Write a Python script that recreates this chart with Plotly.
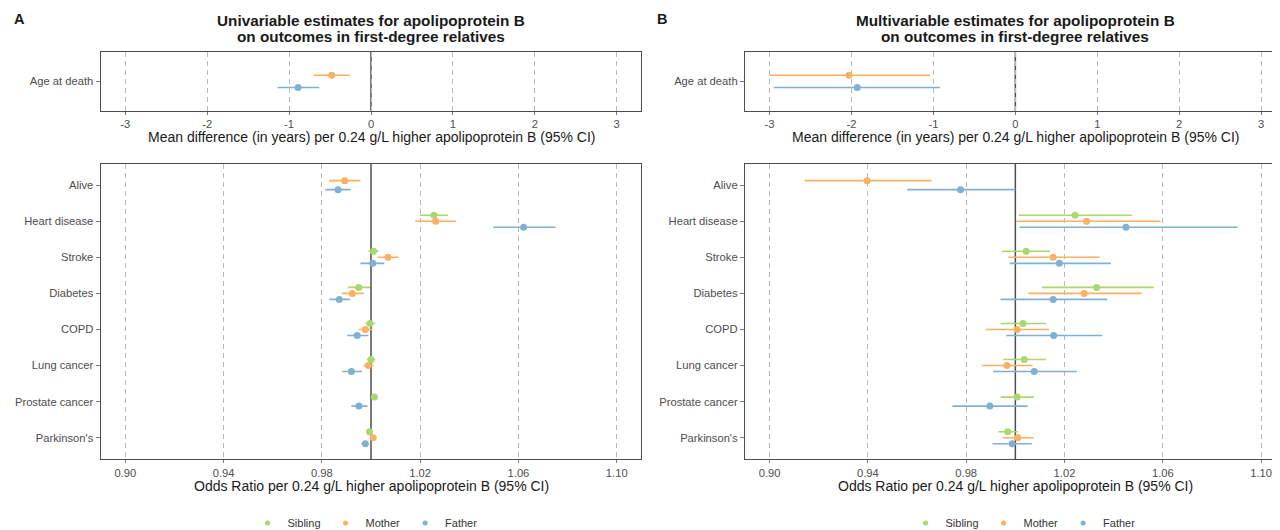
import plotly.graph_objects as go

# ---------------- data ----------------
categories = ["Alive", "Heart disease", "Stroke", "Diabetes", "COPD",
              "Lung cancer", "Prostate cancer", "Parkinson's"]
relatives = ["Sibling", "Mother", "Father"]
age_category = ["Age at death"]

# Panel A (univariable), odds ratios
uni_sibling_or = [None, 1.0256, 1.0010, 0.9950, 0.9996, 1.0000, 1.0014, 0.9994]
uni_sibling_lo = [None, 1.0200, 0.9989, 0.9907, 0.9977, 0.9983, 1.0003, 0.9983]
uni_sibling_hi = [None, 1.0314, 1.0031, 0.9996, 1.0017, 1.0017, 1.0026, 1.0006]
uni_mother_or = [0.9893, 1.0263, 1.0069, 0.9924, 0.9977, 0.9989, None, 1.0009]
uni_mother_lo = [0.9829, 1.0180, 1.0027, 0.9881, 0.9949, 0.9969, None, 0.9997]
uni_mother_hi = [0.9957, 1.0346, 1.0111, 0.9970, 1.0006, 1.0011, None, 1.0021]
uni_father_or = [0.9866, 1.0621, 1.0007, 0.9871, 0.9944, 0.9920, 0.9951, 0.9977]
uni_father_lo = [0.9814, 1.0497, 0.9957, 0.9831, 0.9903, 0.9883, 0.9920, 0.9960]
uni_father_hi = [0.9917, 1.0751, 1.0054, 0.9914, 0.9989, 0.9963, 0.9986, 0.9991]

# Panel B (multivariable), odds ratios
multi_sibling_or = [None, 1.0243, 1.0044, 1.0331, 1.0031, 1.0036, 1.0007, 0.9969]
multi_sibling_lo = [None, 1.0014, 0.9946, 1.0109, 0.9940, 0.9951, 0.9940, 0.9931]
multi_sibling_hi = [None, 1.0474, 1.0141, 1.0563, 1.0124, 1.0124, 1.0076, 1.0010]
multi_mother_or = [0.9397, 1.0290, 1.0154, 1.0280, 1.0007, 0.9966, None, 1.0010]
multi_mother_lo = [0.9143, 1.0003, 0.9971, 1.0053, 0.9879, 0.9863, None, 0.9949]
multi_mother_hi = [0.9659, 1.0591, 1.0343, 1.0514, 1.0137, 1.0070, None, 1.0074]
multi_father_or = [0.9777, 1.0450, 1.0179, 1.0154, 1.0156, 1.0077, 0.9896, 0.9987]
multi_father_lo = [0.9560, 1.0017, 0.9977, 0.9940, 0.9963, 0.9909, 0.9744, 0.9907]
multi_father_hi = [1.0000, 1.0904, 1.0389, 1.0374, 1.0354, 1.0250, 1.0050, 1.0067]

# Age at death, mean difference in years
uni_age_sibling = [None]; uni_age_sibling_lo = [None]; uni_age_sibling_hi = [None]
uni_age_mother = [-0.48]; uni_age_mother_lo = [-0.70]; uni_age_mother_hi = [-0.26]
uni_age_father = [-0.89]; uni_age_father_lo = [-1.14]; uni_age_father_hi = [-0.63]
multi_age_sibling = [None]; multi_age_sibling_lo = [None]; multi_age_sibling_hi = [None]
multi_age_mother = [-2.03]; multi_age_mother_lo = [-3.00]; multi_age_mother_hi = [-1.04]
multi_age_father = [-1.93]; multi_age_father_lo = [-2.95]; multi_age_father_hi = [-0.92]

md_ticks = [-3, -2, -1, 0, 1, 2, 3]
or_ticks = [0.90, 0.94, 0.98, 1.02, 1.06, 1.10]
or_tick_labels = ["0.90", "0.94", "0.98", "1.02", "1.06", "1.10"]

titles_A = ["Univariable estimates for apolipoprotein B", "on outcomes in first-degree relatives"]
titles_B = ["Multivariable estimates for apolipoprotein B", "on outcomes in first-degree relatives"]
md_title = "Mean difference (in years) per 0.24 g/L higher apolipoprotein B (95% CI)"
or_title = "Odds Ratio per 0.24 g/L higher apolipoprotein B (95% CI)"

colors = {"Sibling": "#a9d86e", "Mother": "#fbb062", "Father": "#80b1d3"}

# ---------------- layout geometry ----------------
W, H = 1280, 530
def px_x(p): return p / W
def px_y(p): return 1 - p / H

dom_A = [px_x(92.7), px_x(633.3)]
dom_B = [px_x(737), px_x(1277.7)]
dom_top = [px_y(104), px_y(44.5)]
dom_bot = [px_y(456.5), px_y(157.3)]

DODGE = 0.5
FONT = "Liberation Sans, Arial, sans-serif"

def dodge_positions(series):
    n_cat = len(series[0])
    out = [[None] * n_cat for _ in series]
    for i in range(n_cat):
        present = [k for k, s in enumerate(series) if s[i] is not None]
        n = len(present)
        for j, k in enumerate(present):
            out[k][i] = i - DODGE / 2 + (j + 0.5) * DODGE / n
    return out

fig = go.Figure()

def add_panel(vals, los, his, xa, ya, legend_name):
    ys = dodge_positions(vals)
    for k, rel in enumerate(relatives):
        xs, yy, ep, em = [], [], [], []
        for i, v in enumerate(vals[k]):
            if v is None:
                continue
            xs.append(v)
            yy.append(ys[k][i])
            ep.append(his[k][i] - v)
            em.append(v - los[k][i])
        if not xs:
            continue
        fig.add_trace(go.Scatter(
            x=xs, y=yy, mode="markers", xaxis=xa, yaxis=ya,
            marker=dict(color=colors[rel], size=7),
            error_x=dict(type="data", array=ep, arrayminus=em, symmetric=False,
                         width=0, thickness=1.6, color=colors[rel]),
            showlegend=False, name=rel, legend=legend_name))

add_panel([uni_age_sibling, uni_age_mother, uni_age_father],
          [uni_age_sibling_lo, uni_age_mother_lo, uni_age_father_lo],
          [uni_age_sibling_hi, uni_age_mother_hi, uni_age_father_hi], "x", "y", "legend")
add_panel([uni_sibling_or, uni_mother_or, uni_father_or],
          [uni_sibling_lo, uni_mother_lo, uni_father_lo],
          [uni_sibling_hi, uni_mother_hi, uni_father_hi], "x2", "y2", "legend")
add_panel([multi_age_sibling, multi_age_mother, multi_age_father],
          [multi_age_sibling_lo, multi_age_mother_lo, multi_age_father_lo],
          [multi_age_sibling_hi, multi_age_mother_hi, multi_age_father_hi], "x3", "y3", "legend2")
add_panel([multi_sibling_or, multi_mother_or, multi_father_or],
          [multi_sibling_lo, multi_mother_lo, multi_father_lo],
          [multi_sibling_hi, multi_mother_hi, multi_father_hi], "x4", "y4", "legend2")

# legend entries
for lg, xa, ya in [("legend", "x2", "y2"), ("legend2", "x4", "y4")]:
    for rel in relatives:
        fig.add_trace(go.Scatter(x=[None], y=[None], mode="markers", xaxis=xa, yaxis=ya,
                                 marker=dict(color=colors[rel], size=5),
                                 name=rel, showlegend=True, legend=lg))

TICK_FONT = dict(family=FONT, size=11.2, color="#4d4d4d")
BORDER = "#4d4d4d"

def xaxis_cfg(domain, anchor, rng, tickvals, ticktext):
    return dict(domain=domain, anchor=anchor, range=rng, tickvals=tickvals, ticktext=ticktext,
                showgrid=True, gridcolor="#b8b8b8", gridwidth=1, griddash="5px,4px",
                zeroline=False, showline=True, mirror=True, linecolor=BORDER, linewidth=1.3,
                ticks="outside", ticklen=3, tickcolor="#7a7a7a", tickwidth=1,
                tickfont=TICK_FONT, fixedrange=True)

def yaxis_cfg(domain, anchor, labels, pad=0.6):
    n = len(labels)
    return dict(domain=domain, anchor=anchor, range=[n - 1 + pad, -pad],
                tickvals=list(range(n)), ticktext=labels, showgrid=False, zeroline=False,
                showline=True, mirror=True, linecolor=BORDER, linewidth=1.3,
                ticks="outside", ticklen=4, tickcolor="#7a7a7a", tickwidth=1,
                tickfont=TICK_FONT, fixedrange=True)

LEGEND_COMMON = dict(orientation="h", yanchor="middle", y=px_y(521),
                     font=dict(family=FONT, size=11, color="#333333"),
                     itemwidth=30, bgcolor="rgba(0,0,0,0)", xanchor="center")

fig.update_layout(
    width=W, height=H, margin=dict(l=0, r=0, t=0, b=0),
    paper_bgcolor="white", plot_bgcolor="white",
    font=dict(family=FONT, color="#1a1a1a"),
    xaxis=xaxis_cfg(dom_A, "y", [-3.3, 3.3], md_ticks, [str(t) for t in md_ticks]),
    yaxis=yaxis_cfg(dom_top, "x", age_category),
    xaxis2=xaxis_cfg(dom_A, "y2", [0.89, 1.11], or_ticks, or_tick_labels),
    yaxis2=yaxis_cfg(dom_bot, "x2", categories),
    xaxis3=xaxis_cfg(dom_B, "y3", [-3.3, 3.3], md_ticks, [str(t) for t in md_ticks]),
    yaxis3=yaxis_cfg(dom_top, "x3", age_category),
    xaxis4=xaxis_cfg(dom_B, "y4", [0.89, 1.11], or_ticks, or_tick_labels),
    yaxis4=yaxis_cfg(dom_bot, "x4", categories),
    legend=dict(LEGEND_COMMON, x=px_x(357)),
    legend2=dict(LEGEND_COMMON, x=px_x(1015)),
)

# reference lines (null effect)
for xa, ya, xv in [("x", "y", 0), ("x2", "y2", 1.0), ("x3", "y3", 0), ("x4", "y4", 1.0)]:
    fig.add_shape(type="line", xref=xa, yref=ya + " domain", x0=xv, x1=xv, y0=0, y1=1,
                  line=dict(color="#4d4d4d", width=1.5), layer="below")

annotations = []
for dom, lines in [(dom_A, titles_A), (dom_B, titles_B)]:
    cx = (dom[0] + dom[1]) / 2
    for line, yp in zip(lines, [12.2, 29.3]):
        annotations.append(dict(text="<b>" + line + "</b>", x=cx, y=px_y(yp), xref="paper", yref="paper",
                                xanchor="center", yanchor="middle", showarrow=False,
                                font=dict(size=15.3, color="#1a1a1a")))
    annotations.append(dict(text=md_title, x=cx, y=px_y(130.5), xref="paper", yref="paper",
                            xanchor="center", yanchor="middle", showarrow=False,
                            font=dict(size=14, color="#1a1a1a")))
    annotations.append(dict(text=or_title, x=cx, y=px_y(483), xref="paper", yref="paper",
                            xanchor="center", yanchor="middle", showarrow=False,
                            font=dict(size=14, color="#1a1a1a")))
for lab, xp in [("A", 4), ("B", 647)]:
    annotations.append(dict(text="<b>" + lab + "</b>", x=px_x(xp), y=px_y(11), xref="paper", yref="paper",
                            xanchor="left", yanchor="middle", showarrow=False,
                            font=dict(size=14.5, color="#1a1a1a")))
fig.update_layout(annotations=annotations)

fig.write_html("out.html")
